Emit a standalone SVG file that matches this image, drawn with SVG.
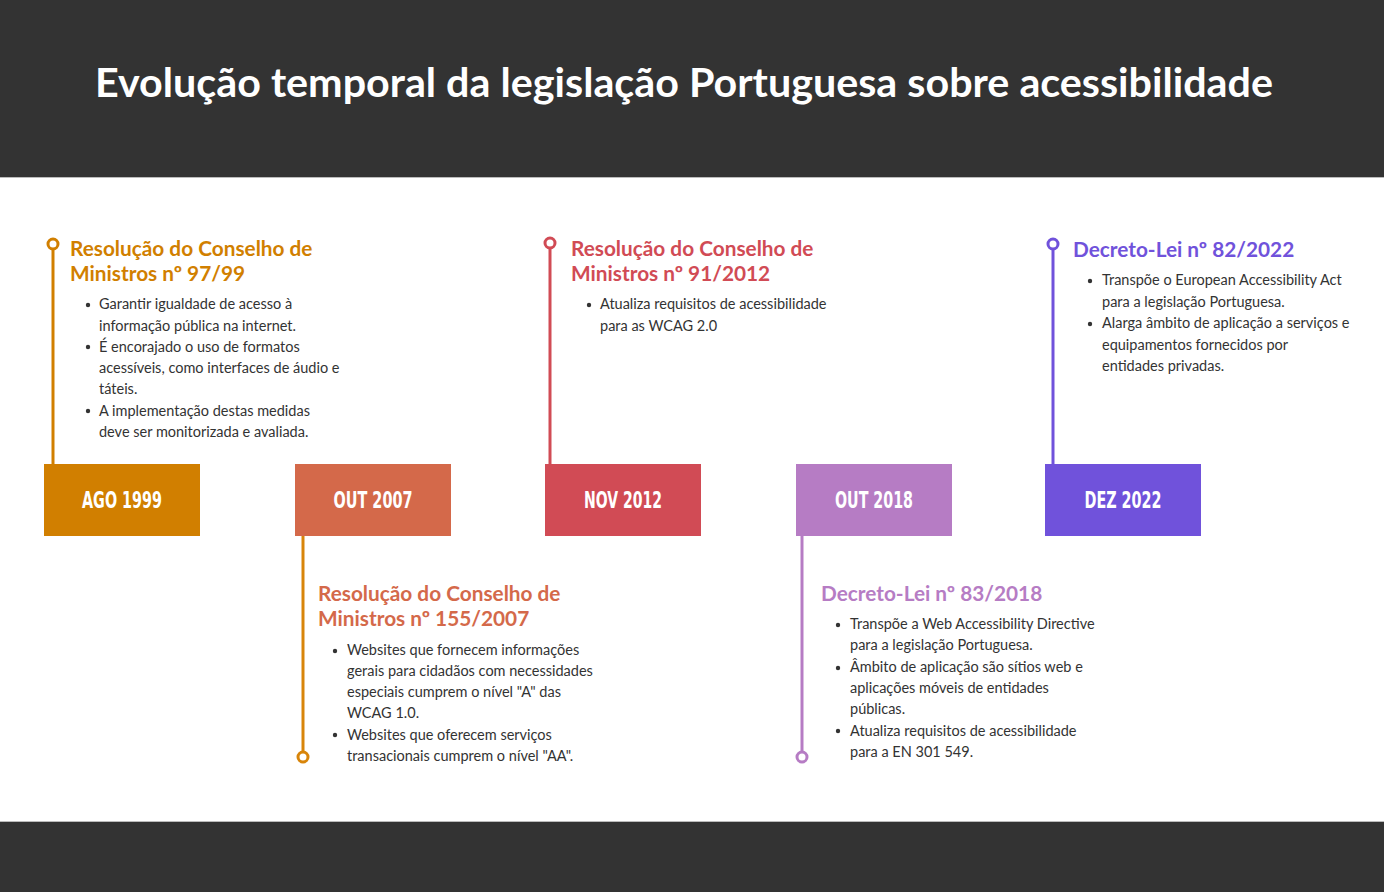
<svg xmlns="http://www.w3.org/2000/svg" width="1384" height="892" viewBox="0 0 1384 892">
<style>
.title{font-family:Lato,"Open Sans",sans-serif;font-weight:700;font-size:40px;fill:#ffffff}
.date{font-family:"DejaVu Sans Condensed","DejaVu Sans",sans-serif;font-weight:700;font-size:23px;fill:#ffffff;text-anchor:middle}
.head{font-family:Lato,"Open Sans",sans-serif;font-weight:700;font-size:20.8px}
.body{font-family:Lato,"Open Sans",sans-serif;font-size:14.5px;fill:#333333}
.ln{stroke-width:3;fill:none}
.dot{stroke-width:3;fill:#ffffff}
</style>
<rect x="0" y="0" width="1384" height="892" fill="#ffffff"/>
<rect x="0" y="0" width="1384" height="177" fill="#333333"/>
<rect x="0" y="177" width="1384" height="1" fill="#bbbbbb"/>
<rect x="0" y="822" width="1384" height="70" fill="#333333"/>
<rect x="0" y="821" width="1384" height="1" fill="#bbbbbb"/>
<text class="title" x="684" y="97" text-anchor="middle" textLength="1178" lengthAdjust="spacingAndGlyphs">Evolução temporal da legislação Portuguesa sobre acessibilidade</text>

<g id="connectors">
<line class="ln" x1="53" y1="249" x2="53" y2="464" stroke="#D17F00"/>
<circle class="dot" cx="53" cy="244" r="5" stroke="#D17F00"/>
<line class="ln" x1="303" y1="536" x2="303" y2="752" stroke="#D8850A"/>
<circle class="dot" cx="303" cy="757" r="5" stroke="#D8850A"/>
<line class="ln" x1="550" y1="248" x2="550" y2="464" stroke="#D14B55"/>
<circle class="dot" cx="550" cy="243" r="5" stroke="#D14B55"/>
<line class="ln" x1="802" y1="536" x2="802" y2="752" stroke="#B67CC4"/>
<circle class="dot" cx="802" cy="757" r="5" stroke="#B67CC4"/>
<line class="ln" x1="1053" y1="249" x2="1053" y2="464" stroke="#7052DB"/>
<circle class="dot" cx="1053" cy="244" r="5" stroke="#7052DB"/>
</g>

<g id="ago1999">
<rect x="44" y="464" width="156" height="72" fill="#D17F00"/>
<text class="date" x="122" y="508" textLength="80" lengthAdjust="spacingAndGlyphs">AGO 1999</text>
<text class="head" fill="#D17F00"><tspan x="70" y="256">Resolução do Conselho de</tspan><tspan x="70" y="281">Ministros nº 97/99</tspan></text>
<g fill="#333333"><circle cx="88" cy="305" r="2.2"/><circle cx="88" cy="347" r="2.2"/><circle cx="88" cy="411" r="2.2"/></g>
<text class="body"><tspan x="99" y="309">Garantir igualdade de acesso à</tspan><tspan x="99" y="331">informação pública na internet.</tspan><tspan x="99" y="352">É encorajado o uso de formatos</tspan><tspan x="99" y="373">acessíveis, como interfaces de áudio e</tspan><tspan x="99" y="394">táteis.</tspan><tspan x="99" y="416">A implementação destas medidas</tspan><tspan x="99" y="437">deve ser monitorizada e avaliada.</tspan></text>
</g>

<g id="out2007">
<rect x="295" y="464" width="156" height="72" fill="#D4694A"/>
<text class="date" x="373" y="508" textLength="79" lengthAdjust="spacingAndGlyphs">OUT 2007</text>
<text class="head" fill="#D4694A"><tspan x="318" y="601">Resolução do Conselho de</tspan><tspan x="318" y="626">Ministros nº 155/2007</tspan></text>
<g fill="#333333"><circle cx="335" cy="651" r="2.2"/><circle cx="335" cy="735" r="2.2"/></g>
<text class="body"><tspan x="347" y="655">Websites que fornecem informações</tspan><tspan x="347" y="676">gerais para cidadãos com necessidades</tspan><tspan x="347" y="697">especiais cumprem o nível "A" das</tspan><tspan x="347" y="718">WCAG 1.0.</tspan><tspan x="347" y="740">Websites que oferecem serviços</tspan><tspan x="347" y="761">transacionais cumprem o nível "AA".</tspan></text>
</g>

<g id="nov2012">
<rect x="545" y="464" width="156" height="72" fill="#D14B55"/>
<text class="date" x="623" y="508" textLength="78" lengthAdjust="spacingAndGlyphs">NOV 2012</text>
<text class="head" fill="#D14B55"><tspan x="571" y="256">Resolução do Conselho de</tspan><tspan x="571" y="281">Ministros nº 91/2012</tspan></text>
<circle cx="589" cy="305" r="2.2" fill="#333333"/>
<text class="body"><tspan x="600" y="309">Atualiza requisitos de acessibilidade</tspan><tspan x="600" y="331">para as WCAG 2.0</tspan></text>
</g>

<g id="out2018">
<rect x="796" y="464" width="156" height="72" fill="#B67CC4"/>
<text class="date" x="874" y="508" textLength="78" lengthAdjust="spacingAndGlyphs">OUT 2018</text>
<text class="head" fill="#B67CC4"><tspan x="821" y="601">Decreto-Lei nº 83/2018</tspan></text>
<g fill="#333333"><circle cx="838" cy="625" r="2.2"/><circle cx="838" cy="668" r="2.2"/><circle cx="838" cy="731" r="2.2"/></g>
<text class="body"><tspan x="850" y="629">Transpõe a Web Accessibility Directive</tspan><tspan x="850" y="650">para a legislação Portuguesa.</tspan><tspan x="850" y="672">Âmbito de aplicação são sítios web e</tspan><tspan x="850" y="693">aplicações móveis de entidades</tspan><tspan x="850" y="714">públicas.</tspan><tspan x="850" y="736">Atualiza requisitos de acessibilidade</tspan><tspan x="850" y="757">para a EN 301 549.</tspan></text>
</g>

<g id="dez2022">
<rect x="1045" y="464" width="156" height="72" fill="#7052DB"/>
<text class="date" x="1123" y="508" textLength="77" lengthAdjust="spacingAndGlyphs">DEZ 2022</text>
<text class="head" fill="#7052DB"><tspan x="1073" y="257">Decreto-Lei nº 82/2022</tspan></text>
<g fill="#333333"><circle cx="1090" cy="281" r="2.2"/><circle cx="1090" cy="324" r="2.2"/></g>
<text class="body"><tspan x="1102" y="285">Transpõe o European Accessibility Act</tspan><tspan x="1102" y="307">para a legislação Portuguesa.</tspan><tspan x="1102" y="328">Alarga âmbito de aplicação a serviços e</tspan><tspan x="1102" y="350">equipamentos fornecidos por</tspan><tspan x="1102" y="371">entidades privadas.</tspan></text>
</g>
</svg>
